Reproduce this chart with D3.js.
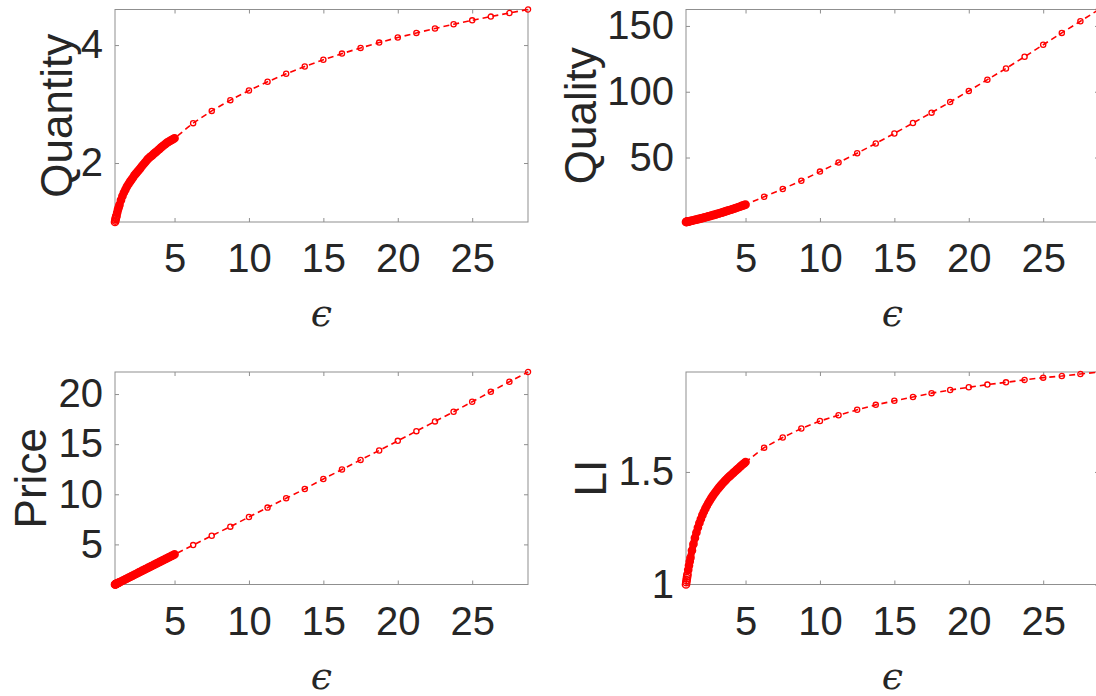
<!DOCTYPE html>
<html>
<head>
<meta charset="utf-8">
<script src="https://cdn.jsdelivr.net/npm/d3@7"></script>
<style>
  body { margin: 0; background: #fff; }
  text { font-family: "Liberation Sans", Arial, Helvetica, sans-serif; fill: #262626; }
</style>
</head>
<body>
<div id="chart"></div>
<script>
// epsilon values: dense run from 1 to 5, then coarse steps up to 28.75
var epsDense = [1.00, 1.02, 1.04, 1.06, 1.08, 1.10, 1.15, 1.20, 1.25, 1.30,
  1.4, 1.5, 1.6, 1.7, 1.8, 1.9, 2.0, 2.1, 2.2, 2.3, 2.4, 2.5, 2.6, 2.7, 2.8, 2.9,
  3.0, 3.1, 3.2, 3.3, 3.4, 3.5, 3.6, 3.7, 3.8, 3.9, 4.0, 4.1, 4.2, 4.3, 4.4, 4.5,
  4.6, 4.7, 4.8, 4.9, 5.0];
var epsSparse = [6.25, 7.5, 8.75, 10, 11.25, 12.5, 13.75, 15, 16.25, 17.5, 18.75,
  20, 21.25, 22.5, 23.75, 25, 26.25, 27.5, 28.75];

var quantityDense = [1.00, 1.025, 1.05, 1.07, 1.09, 1.11, 1.16, 1.21, 1.25, 1.29,
  1.37, 1.44, 1.50, 1.55, 1.60, 1.64, 1.68, 1.715, 1.75, 1.79, 1.82, 1.85, 1.88, 1.91, 1.945, 1.975,
  2.005, 2.035, 2.065, 2.09, 2.11, 2.13, 2.155, 2.175, 2.195, 2.22, 2.24, 2.265, 2.285, 2.305, 2.325, 2.345,
  2.36, 2.375, 2.39, 2.405, 2.42];
var quantitySparse = [2.676, 2.884, 3.066, 3.230, 3.378, 3.513, 3.637, 3.750, 3.855, 3.952, 4.042,
  4.127, 4.206, 4.281, 4.352, 4.419, 4.483, 4.544, 4.603];

var qualityDense = [1.00, 1.05, 1.10, 1.15, 1.20, 1.25, 1.38, 1.51, 1.64, 1.77,
  2.03, 2.30, 2.57, 2.85, 3.13, 3.41, 3.70, 3.99, 4.29, 4.59, 4.89, 5.20, 5.51, 5.83, 6.15, 6.47,
  6.80, 7.13, 7.47, 7.81, 8.15, 8.50, 8.85, 9.21, 9.57, 9.93, 10.30, 10.67, 11.05, 11.43, 11.81, 12.20,
  12.59, 12.99, 13.39, 13.79, 14.20];
var qualitySparse = [20.2, 26.1, 32.4, 39.3, 46.2, 53.3, 60.7, 68.3, 76.2, 84.1, 92.2,
  100.6, 109.2, 117.7, 126.6, 135.7, 144.7, 153.6, 162.5];

var priceDense = [1.00, 1.015, 1.03, 1.045, 1.06, 1.075, 1.11, 1.15, 1.19, 1.22,
  1.30, 1.37, 1.45, 1.52, 1.60, 1.67, 1.75, 1.82, 1.90, 1.97, 2.05, 2.12, 2.20, 2.27, 2.35, 2.42,
  2.50, 2.57, 2.65, 2.72, 2.80, 2.87, 2.95, 3.02, 3.10, 3.17, 3.25, 3.32, 3.40, 3.47, 3.55, 3.62,
  3.70, 3.77, 3.85, 3.92, 4.00];
var priceSparse = [4.93, 5.87, 6.77, 7.73, 8.67, 9.60, 10.53, 11.53, 12.47, 13.43, 14.37,
  15.33, 16.30, 17.27, 18.23, 19.23, 20.23, 21.23, 22.2];

var liDense = [1.000, 1.010, 1.019, 1.028, 1.037, 1.045, 1.065, 1.084, 1.102, 1.119,
  1.151, 1.180, 1.207, 1.231, 1.253, 1.273, 1.291, 1.308, 1.323, 1.337, 1.350, 1.362, 1.373, 1.384, 1.394, 1.403,
  1.412, 1.421, 1.429, 1.437, 1.445, 1.452, 1.459, 1.466, 1.473, 1.479, 1.485, 1.491, 1.497, 1.503, 1.509, 1.515,
  1.521, 1.527, 1.533, 1.538, 1.544];
var liSparse = [1.608, 1.653, 1.693, 1.726, 1.752, 1.776, 1.798, 1.816, 1.833, 1.850, 1.864,
  1.876, 1.888, 1.898, 1.909, 1.919, 1.926, 1.935, 1.944];

var xTicks = [5, 10, 15, 20, 25];
var quantityTicks = [2, 4];
var qualityTicks = [50, 100, 150];
var priceTicks = [5, 10, 15, 20];
var liTicks = [1, 1.5];

var W = 1096, H = 696;
var pw = 413, ph = 212.5;

var panels = [
  {name: "Quantity", dense: quantityDense, sparse: quantitySparse, ticks: quantityTicks, left: 115, top: 9.5, labelX: -43},
  {name: "Quality", dense: qualityDense, sparse: qualitySparse, ticks: qualityTicks, left: 686, top: 9.5, labelX: -90},
  {name: "Price", dense: priceDense, sparse: priceSparse, ticks: priceTicks, left: 115, top: 372, labelX: -69},
  {name: "LI", dense: liDense, sparse: liSparse, ticks: liTicks, left: 686, top: 372, labelX: -80}
];

var fmt = d3.format("~g");

var svg = d3.select("#chart")
  .append("svg")
  .attr("width", W)
  .attr("height", H);

panels.forEach(function(p){
  var g = svg.append("g")
    .attr("transform", "translate(" + p.left + "," + p.top + ")");

  var allY = p.dense.concat(p.sparse);
  var allX = epsDense.concat(epsSparse);

  var x = d3.scaleLinear().domain([1, 28.75]).range([0, pw]);
  var y = d3.scaleLinear().domain(d3.extent(allY)).range([ph, 0]);

  // box
  g.append("rect")
    .attr("width", pw).attr("height", ph)
    .attr("fill", "none").attr("stroke", "#8f8f8f").attr("stroke-width", 1);

  // bottom axis with labels, top mirrored ticks
  var xb = g.append("g")
    .attr("transform", "translate(0," + ph + ")")
    .call(d3.axisBottom(x).tickValues(xTicks).tickFormat(fmt).tickSizeInner(-4).tickSizeOuter(0).tickPadding(22));
  var xt = g.append("g")
    .call(d3.axisTop(x).tickValues(xTicks).tickSizeInner(-4).tickSizeOuter(0).tickFormat(""));

  var yl = g.append("g")
    .call(d3.axisLeft(y).tickValues(p.ticks).tickFormat(fmt).tickSizeInner(-4).tickSizeOuter(0).tickPadding(12));
  var yr = g.append("g")
    .attr("transform", "translate(" + pw + ",0)")
    .call(d3.axisRight(y).tickValues(p.ticks).tickSizeInner(-4).tickSizeOuter(0).tickFormat(""));

  [xb, xt, yl, yr].forEach(function(a){
    a.select(".domain").remove();
    a.selectAll(".tick line").attr("stroke", "#8f8f8f");
    a.selectAll(".tick text")
      .attr("fill", "#262626")
      .style("font-family", "'Liberation Sans', Arial, Helvetica, sans-serif")
      .style("font-size", "40px");
  });

  // axis labels
  g.append("text")
    .attr("x", pw / 2)
    .attr("y", ph + 104)
    .attr("text-anchor", "middle")
    .style("font-family", "'DejaVu Serif', 'Liberation Serif', serif")
    .style("font-style", "italic")
    .style("font-size", "38px")
    .text("\u03f5");

  g.append("text")
    .attr("transform", "translate(" + p.labelX + "," + (ph / 2) + ") rotate(-90)")
    .attr("text-anchor", "middle")
    .style("font-size", "44px")
    .text(p.name);

  // data
  var pts = allX.map(function(e, i){ return {e: e, v: allY[i], dense: i < epsDense.length}; });
  var line = d3.line().x(function(d){ return x(d.e); }).y(function(d){ return y(d.v); });

  g.append("path")
    .datum(pts)
    .attr("fill", "none")
    .attr("stroke", "#ff0000")
    .attr("stroke-width", 1.6)
    .attr("stroke-dasharray", "6,4")
    .attr("d", line);

  // the dense run of markers merges into a solid band
  g.append("path")
    .datum(pts.filter(function(d){ return d.dense && d.e >= 1.15; }))
    .attr("fill", "none")
    .attr("stroke", "#ff0000")
    .attr("stroke-width", 7)
    .attr("stroke-linecap", "round")
    .attr("stroke-linejoin", "round")
    .attr("d", line);

  g.selectAll(".mk")
    .data(pts)
    .enter()
    .append("circle")
    .attr("class", "mk")
    .attr("cx", function(d){ return x(d.e); })
    .attr("cy", function(d){ return y(d.v); })
    .attr("r", function(d){ return d.dense ? 3.6 : 2.6; })
    .attr("fill", "none")
    .attr("stroke", "#ff0000")
    .attr("stroke-width", function(d){ return d.dense ? 1.5 : 1.3; });
});
</script>
</body>
</html>
